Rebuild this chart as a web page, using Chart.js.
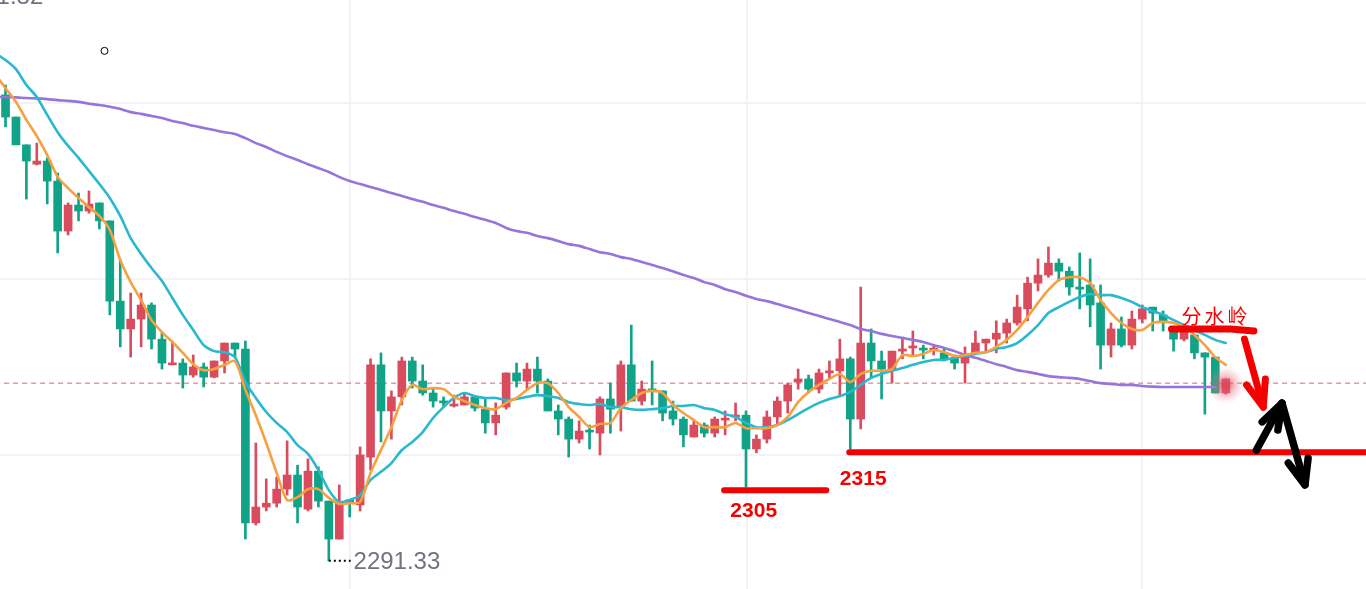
<!DOCTYPE html>
<html>
<head>
<meta charset="utf-8">
<title>K-line</title>
<script src="https://cdn.jsdelivr.net/npm/chart.js@4"></script>
<style>
  html, body { margin: 0; padding: 0; background: #fff; overflow: hidden; }
  canvas { display: block; }
</style>
</head>
<body>
<canvas id="chart" width="1366" height="589"></canvas>
<script>
// Candles, one entry per bar. Bar numbering starts at 1, bar 0 is off the left edge.
const opens = [
  2423.7, 2417.4, 2409.5, 2404.0, 2404.9, 2399.2, 2385.0, 2392.4, 2390.7, 2393.0,
  2387.9, 2365.1, 2357.2, 2360.0, 2364.0, 2354.3, 2347.0, 2347.5, 2344.1, 2346.4,
  2343.5, 2348.1, 2353.2, 2351.5, 2302.1, 2306.6, 2307.7, 2311.7, 2315.7, 2306.0,
  2316.8, 2308.3, 2297.5, 2308.6, 2307.2, 2320.8, 2347.0, 2333.9, 2337.9, 2348.1,
  2342.4, 2339.0, 2336.7, 2335.3, 2335.6, 2337.9, 2334.4, 2330.5, 2335.0, 2344.7,
  2342.4, 2345.8, 2342.4, 2333.9, 2331.6, 2325.9, 2328.2, 2327.6, 2337.3, 2335.3,
  2347.0, 2336.7, 2340.1, 2339.6, 2333.9, 2331.6, 2326.5, 2329.9, 2327.6, 2331.3,
  2332.2, 2332.7, 2323.1, 2325.9, 2332.2, 2336.7, 2342.1, 2343.0, 2340.1, 2344.7,
  2345.3, 2348.7, 2331.6, 2353.2, 2348.1, 2345.8, 2350.9, 2351.8, 2351.5, 2351.2,
  2350.4, 2349.0, 2347.5, 2350.4, 2353.2, 2354.3, 2356.0, 2358.9, 2362.9, 2370.2,
  2372.5, 2375.9, 2373.6, 2369.1, 2369.7, 2364.6, 2352.6, 2357.2, 2352.6, 2360.0,
  2363.4, 2361.2, 2356.9, 2354.3, 2355.5, 2350.4, 2349.2, 2339.0
];
const closes = [
  2417.4, 2409.5, 2404.9, 2404.9, 2399.2, 2385.0, 2392.4, 2390.7, 2392.7, 2387.9,
  2365.1, 2357.2, 2360.0, 2364.0, 2354.3, 2347.5, 2347.5, 2344.1, 2346.4, 2343.5,
  2348.1, 2353.2, 2351.5, 2302.1, 2306.6, 2307.7, 2311.7, 2315.7, 2306.6, 2316.8,
  2308.3, 2297.5, 2307.7, 2307.7, 2321.4, 2347.0, 2333.9, 2337.9, 2348.1, 2342.4,
  2339.0, 2336.7, 2336.2, 2335.6, 2337.9, 2334.7, 2330.5, 2332.7, 2344.7, 2342.4,
  2345.8, 2342.4, 2333.9, 2331.6, 2325.9, 2328.2, 2327.9, 2337.3, 2334.4, 2347.0,
  2336.7, 2340.1, 2339.6, 2333.3, 2331.6, 2327.1, 2329.9, 2327.6, 2331.6, 2331.6,
  2332.7, 2323.1, 2325.9, 2332.2, 2336.7, 2341.3, 2343.0, 2340.1, 2344.7, 2345.3,
  2348.7, 2331.6, 2353.2, 2348.1, 2345.8, 2350.9, 2351.5, 2352.1, 2351.2, 2351.5,
  2348.7, 2347.5, 2350.1, 2353.2, 2354.3, 2356.0, 2358.9, 2363.4, 2370.2, 2372.5,
  2375.9, 2373.6, 2369.1, 2368.5, 2364.0, 2352.6, 2357.2, 2352.6, 2360.0, 2362.9,
  2361.7, 2359.5, 2354.3, 2356.9, 2350.4, 2349.2, 2339.0, 2343.0
];
const highs = [
  2426.5, 2417.4, 2409.5, 2410.0, 2405.8, 2401.5, 2393.0, 2395.8, 2396.4, 2393.0,
  2387.9, 2376.8, 2367.4, 2367.4, 2364.6, 2356.0, 2353.5, 2348.7, 2349.8, 2347.5,
  2348.1, 2353.2, 2353.2, 2353.8, 2324.8, 2314.6, 2315.1, 2325.4, 2318.5, 2320.3,
  2318.0, 2308.3, 2312.9, 2308.6, 2323.7, 2348.7, 2350.4, 2339.6, 2349.2, 2349.2,
  2347.0, 2340.1, 2337.9, 2338.4, 2339.0, 2337.9, 2337.3, 2336.2, 2344.7, 2347.5,
  2347.5, 2349.2, 2343.0, 2335.6, 2332.2, 2331.1, 2329.9, 2337.9, 2341.8, 2348.1,
  2358.3, 2342.4, 2348.1, 2339.6, 2336.7, 2332.2, 2331.1, 2330.5, 2332.2, 2333.9,
  2336.2, 2333.9, 2327.1, 2333.9, 2337.9, 2341.8, 2345.8, 2344.1, 2345.8, 2348.1,
  2354.3, 2349.2, 2369.1, 2357.2, 2350.9, 2350.9, 2354.9, 2356.6, 2352.6, 2352.6,
  2351.5, 2349.8, 2352.1, 2356.6, 2354.3, 2359.5, 2360.0, 2366.8, 2371.9, 2377.1,
  2380.5, 2377.1, 2374.8, 2378.8, 2377.1, 2369.7, 2358.9, 2360.6, 2362.3, 2364.0,
  2363.4, 2362.3, 2356.9, 2356.9, 2355.5, 2350.4, 2349.2, 2343.0
];
const lows = [
  2414.6, 2409.5, 2394.1, 2403.8, 2392.7, 2378.8, 2383.9, 2387.9, 2390.1, 2385.6,
  2361.2, 2352.1, 2349.2, 2352.1, 2351.5, 2345.8, 2347.0, 2340.4, 2343.5, 2340.7,
  2343.3, 2344.7, 2349.0, 2297.5, 2301.5, 2305.5, 2306.6, 2310.0, 2302.1, 2305.5,
  2306.6, 2291.33, 2297.5, 2303.8, 2305.5, 2317.1, 2325.1, 2325.9, 2335.6, 2340.4,
  2338.4, 2335.0, 2335.0, 2335.0, 2335.6, 2333.9, 2327.6, 2327.1, 2334.4, 2340.7,
  2340.1, 2339.0, 2333.9, 2327.1, 2320.8, 2324.8, 2323.1, 2321.4, 2327.6, 2328.2,
  2336.7, 2335.6, 2335.6, 2331.1, 2329.9, 2323.7, 2326.5, 2326.5, 2326.5, 2327.1,
  2331.1, 2312.3, 2322.0, 2324.8, 2329.9, 2333.3, 2340.1, 2339.0, 2339.0, 2343.0,
  2338.1, 2323.1, 2328.8, 2343.5, 2337.3, 2341.8, 2348.7, 2349.8, 2348.7, 2349.8,
  2348.1, 2345.8, 2341.8, 2350.4, 2350.9, 2350.4, 2353.2, 2358.3, 2359.5, 2368.0,
  2371.9, 2370.8, 2366.8, 2362.9, 2357.8, 2345.8, 2349.2, 2352.1, 2351.5, 2358.9,
  2356.6, 2356.6, 2350.9, 2353.8, 2348.7, 2333.0, 2339.0, 2338.7
];

// Moving averages, these start one bar earlier than the candles (bar 0)
const maFast = [
  2429.6, 2425.6, 2421.7, 2416.6, 2412.0, 2406.6, 2400.4, 2397.2, 2394.4, 2391.8,
  2389.3, 2385.3, 2376.8, 2370.5, 2365.4, 2359.7, 2356.3, 2353.5, 2350.4, 2347.2,
  2345.5, 2345.8, 2347.0, 2348.1, 2339.9, 2332.7, 2324.8, 2316.3, 2308.6, 2309.4,
  2311.7, 2311.7, 2309.2, 2307.5, 2307.7, 2308.0, 2316.3, 2322.8, 2329.3, 2337.0,
  2341.3, 2340.1, 2340.4, 2340.1, 2337.9, 2336.7, 2335.6, 2334.7, 2334.4, 2336.2,
  2337.6, 2339.9, 2341.8, 2341.8, 2339.0, 2335.0, 2332.2, 2329.3, 2330.2, 2330.5,
  2334.7, 2337.0, 2339.0, 2339.6, 2339.0, 2335.6, 2333.3, 2331.3, 2329.3, 2329.3,
  2329.3, 2330.5, 2329.0, 2329.0, 2329.0, 2329.9, 2332.2, 2336.4, 2339.3, 2341.3,
  2343.0, 2344.4, 2342.1, 2344.4, 2345.3, 2345.3, 2345.8, 2349.8, 2349.5, 2350.1,
  2351.2, 2350.6, 2349.5, 2349.8, 2350.4, 2350.6, 2352.1, 2354.1, 2356.9, 2360.6,
  2364.6, 2368.3, 2371.1, 2371.9, 2371.9, 2370.2, 2365.4, 2361.7, 2358.9, 2357.2,
  2356.9, 2358.9, 2359.2, 2358.9, 2357.8, 2355.5, 2352.6, 2349.2, 2347.0
];
const maMid = [
  2435.6, 2433.6, 2431.0, 2426.5, 2423.1, 2418.0, 2413.1, 2409.2, 2405.8, 2402.1,
  2398.4, 2394.4, 2389.3, 2383.0, 2378.5, 2374.5, 2370.8, 2366.0, 2361.2, 2356.9,
  2352.6, 2350.9, 2350.6, 2349.2, 2342.1, 2337.6, 2333.6, 2330.5, 2327.9, 2324.2,
  2321.7, 2317.1, 2311.4, 2308.0, 2308.6, 2310.0, 2314.3, 2316.6, 2319.1, 2322.8,
  2325.1, 2327.9, 2331.9, 2335.0, 2337.6, 2339.0, 2338.1, 2337.6, 2337.6, 2337.0,
  2337.3, 2337.9, 2338.4, 2338.1, 2337.6, 2336.4, 2335.9, 2335.6, 2335.9, 2335.0,
  2335.0, 2334.4, 2334.2, 2334.4, 2334.7, 2335.3, 2335.3, 2335.6, 2334.7, 2334.2,
  2333.0, 2332.2, 2330.5, 2329.3, 2329.3, 2329.9, 2331.3, 2333.0, 2334.7, 2336.2,
  2337.3, 2338.1, 2339.3, 2341.3, 2343.3, 2344.4, 2345.3, 2346.1, 2347.0, 2347.8,
  2348.4, 2348.4, 2349.0, 2349.5, 2350.1, 2350.6, 2351.5, 2352.1, 2353.2, 2355.5,
  2358.3, 2361.7, 2363.4, 2364.9, 2366.3, 2367.1, 2366.8, 2366.8, 2366.0, 2364.9,
  2363.4, 2362.3, 2361.2, 2359.7, 2358.3, 2356.9, 2355.5, 2354.1, 2353.2
];
const maSlow = [
  2423.1, 2423.1, 2423.0, 2422.8, 2422.7, 2422.5, 2422.2, 2422.0, 2421.7, 2421.2,
  2420.8, 2420.3, 2419.7, 2418.8, 2418.3, 2417.7, 2417.1, 2416.3, 2415.7, 2414.9,
  2414.3, 2413.7, 2413.1, 2412.6, 2411.4, 2410.0, 2408.9, 2407.5, 2406.3, 2405.2,
  2404.0, 2402.9, 2401.8, 2400.4, 2399.2, 2398.4, 2397.5, 2396.7, 2395.8, 2395.0,
  2394.1, 2393.3, 2392.4, 2391.6, 2390.7, 2389.9, 2389.0, 2388.2, 2387.3, 2385.9,
  2385.0, 2384.5, 2383.6, 2383.0, 2382.2, 2381.3, 2380.8, 2379.9, 2379.0, 2378.5,
  2377.6, 2377.1, 2376.2, 2375.4, 2374.5, 2373.6, 2372.5, 2371.7, 2370.5, 2369.7,
  2368.5, 2367.7, 2366.6, 2365.7, 2365.1, 2364.3, 2363.4, 2362.6, 2361.7, 2360.9,
  2360.0, 2359.2, 2358.3, 2357.2, 2356.6, 2355.8, 2355.2, 2354.6, 2354.1, 2353.5,
  2352.6, 2351.8, 2350.9, 2349.8, 2349.0, 2348.1, 2347.2, 2346.4, 2345.5, 2345.0,
  2344.4, 2343.8, 2343.5, 2343.3, 2343.0, 2342.4, 2341.8, 2341.6, 2341.3, 2341.3,
  2341.0, 2340.8, 2340.7, 2340.7, 2340.7, 2340.7, 2340.7, 2340.7, null
];

const lastPrice = 2341.8;
const lowPrice = 2291.33;
const highPrice = 2451.82;

const priceGrid = [2321.4, 2371.4, 2421.4];
const barGrid = [34, 72.1, 110];

// Hand drawn marks on top of the chart, in bar / price units
const support2305 = [{ x: 69.9, y: 2311.4 }, { x: 79.7, y: 2311.4 }];
const support2315 = [{ x: 81.9, y: 2322.2 }, { x: 132, y: 2322.2 }];
const watershed = [{ x: 112.8, y: 2357.2 }, { x: 118.45, y: 2357.2 }, { x: 120.7, y: 2356.6 }];
const redArrowShaft = [{ x: 119.8, y: 2354.3 }, { x: 121.6, y: 2335.0 }];
const redArrowHead = [{ x: 120.0, y: 2341.3 }, { x: 121.6, y: 2335.0 }, { x: 121.8, y: 2343.0 }];
const blackUpShaft = [{ x: 120.94, y: 2322.8 }, { x: 123.4, y: 2336.1 }];
const blackUpHead = [{ x: 121.5, y: 2330.8 }, { x: 123.4, y: 2336.1 }, { x: 123.0, y: 2328.5 }];
const blackDownShaft = [{ x: 123.4, y: 2336.1 }, { x: 125.6, y: 2312.9 }];
const blackDownHead = [{ x: 124.0, y: 2319.1 }, { x: 125.6, y: 2312.9 }, { x: 125.9, y: 2320.5 }];
const lowDots = [{ x: 32, y: lowPrice }, { x: 34.1, y: lowPrice }];
const stray = [{ x: 10.49, y: 2436.2 }];

const TEAL = '#10a388';
const RED = '#d94c5e';
const GRID = '#f3f3f5';
const GREY = '#6f7380';
const MARK_RED = '#f50000';

const bar = i => i + 1;
const isRed = opens.map((o, i) => closes[i] > o);
const candleColors = isRed.map(r => (r ? RED : TEAL));

function lineOf(data, color, width, order, extra) {
  return {
    type: 'line',
    data,
    borderColor: color,
    borderWidth: width,
    pointRadius: 0,
    tension: 0,
    borderCapStyle: 'round',
    borderJoinStyle: 'round',
    order,
    ...extra
  };
}

const maLine = (values, color, order) => lineOf(
  values.map((y, i) => ({ x: i, y })), color, 2.6, order, { tension: 0.25 }
);

// Text, last price glow
const overlay = {
  id: 'overlay',
  afterDatasetsDraw(chart) {
    const { ctx, scales: { x, y } } = chart;
    ctx.save();

    const gx = x.getPixelForValue(bar(opens.length - 1));
    const gy = y.getPixelForValue(lastPrice) + 2;
    const glow = ctx.createRadialGradient(gx, gy, 3, gx, gy, 19);
    glow.addColorStop(0, 'rgba(222, 70, 90, 0.75)');
    glow.addColorStop(0.45, 'rgba(232, 110, 125, 0.35)');
    glow.addColorStop(1, 'rgba(240, 150, 160, 0)');
    ctx.fillStyle = glow;
    ctx.beginPath();
    ctx.arc(gx, gy, 19, 0, Math.PI * 2);
    ctx.fill();

    ctx.textBaseline = 'middle';
    ctx.textAlign = 'left';

    ctx.font = '24px "Liberation Sans"';
    ctx.fillStyle = GREY;
    ctx.fillText(lowPrice.toFixed(2), x.getPixelForValue(34.37), y.getPixelForValue(lowPrice) + 2);
    ctx.fillText(highPrice.toFixed(2), x.getPixelForValue(-3.7), y.getPixelForValue(highPrice) + 1);

    ctx.font = 'bold 21px "Liberation Sans"';
    ctx.fillStyle = MARK_RED;
    ctx.fillText('2305', x.getPixelForValue(70.5), y.getPixelForValue(2311.4) + 21);
    ctx.fillText('2315', x.getPixelForValue(81), y.getPixelForValue(2322.2) + 27);

    ctx.font = '20px "Noto Sans CJK SC"';
    ctx.letterSpacing = '3px';
    ctx.fillText('分水岭', x.getPixelForValue(113.75), y.getPixelForValue(2357.2) - 13);

    ctx.restore();
  }
};

new Chart(document.getElementById('chart'), {
  type: 'bar',
  data: {
    datasets: [
      lineOf([{ x: 0, y: lastPrice }, { x: 132, y: lastPrice }], '#cf6a78', 1, 10, { borderDash: [5, 4], borderCapStyle: 'butt' }),
      {
        data: opens.map((_, i) => ({ x: bar(i), y: [lows[i], highs[i]] })),
        backgroundColor: candleColors,
        barThickness: 2,
        grouped: false,
        order: 9
      },
      {
        data: opens.map((o, i) => ({ x: bar(i), y: [o, closes[i]] })),
        backgroundColor: candleColors,
        barThickness: 8,
        minBarLength: 2,
        grouped: false,
        order: 8
      },
      maLine(maSlow, '#9575dc', 7),
      maLine(maMid, '#2ab7d0', 6),
      maLine(maFast, '#f7a040', 5),
      lineOf(support2305, MARK_RED, 6, 4),
      lineOf(support2315, MARK_RED, 6, 4),
      lineOf(watershed, MARK_RED, 7, 4),
      lineOf(redArrowShaft, MARK_RED, 7, 3),
      lineOf(redArrowHead, MARK_RED, 7, 3),
      lineOf(blackUpShaft, '#000', 7.5, 2),
      lineOf(blackUpHead, '#000', 7.5, 2),
      lineOf(blackDownShaft, '#000', 7.5, 2),
      lineOf(blackDownHead, '#000', 7.5, 2),
      lineOf(lowDots, '#000', 2, 2, { borderDash: [2, 3], borderCapStyle: 'butt' }),
      {
        type: 'line',
        data: stray,
        showLine: false,
        pointRadius: 3.5,
        pointBackgroundColor: '#fff',
        pointBorderColor: '#000',
        pointBorderWidth: 1,
        order: 1
      }
    ]
  },
  options: {
    responsive: false,
    animation: false,
    devicePixelRatio: 1,
    layout: { padding: 0, autoPadding: false },
    plugins: { legend: { display: false }, tooltip: { enabled: false } },
    scales: {
      x: {
        type: 'linear',
        min: 0.47,
        max: 131.45,
        offset: false,
        border: { display: false },
        grid: { color: GRID, lineWidth: 2, drawTicks: false, offset: false },
        ticks: { display: false },
        afterBuildTicks: axis => { axis.ticks = barGrid.map(value => ({ value })); }
      },
      y: {
        min: 2283.32,
        max: 2450.65,
        border: { display: false },
        grid: { color: GRID, lineWidth: 2, drawTicks: false },
        ticks: { display: false },
        afterBuildTicks: axis => { axis.ticks = priceGrid.map(value => ({ value })); }
      }
    }
  },
  plugins: [overlay]
});
</script>
</body>
</html>
